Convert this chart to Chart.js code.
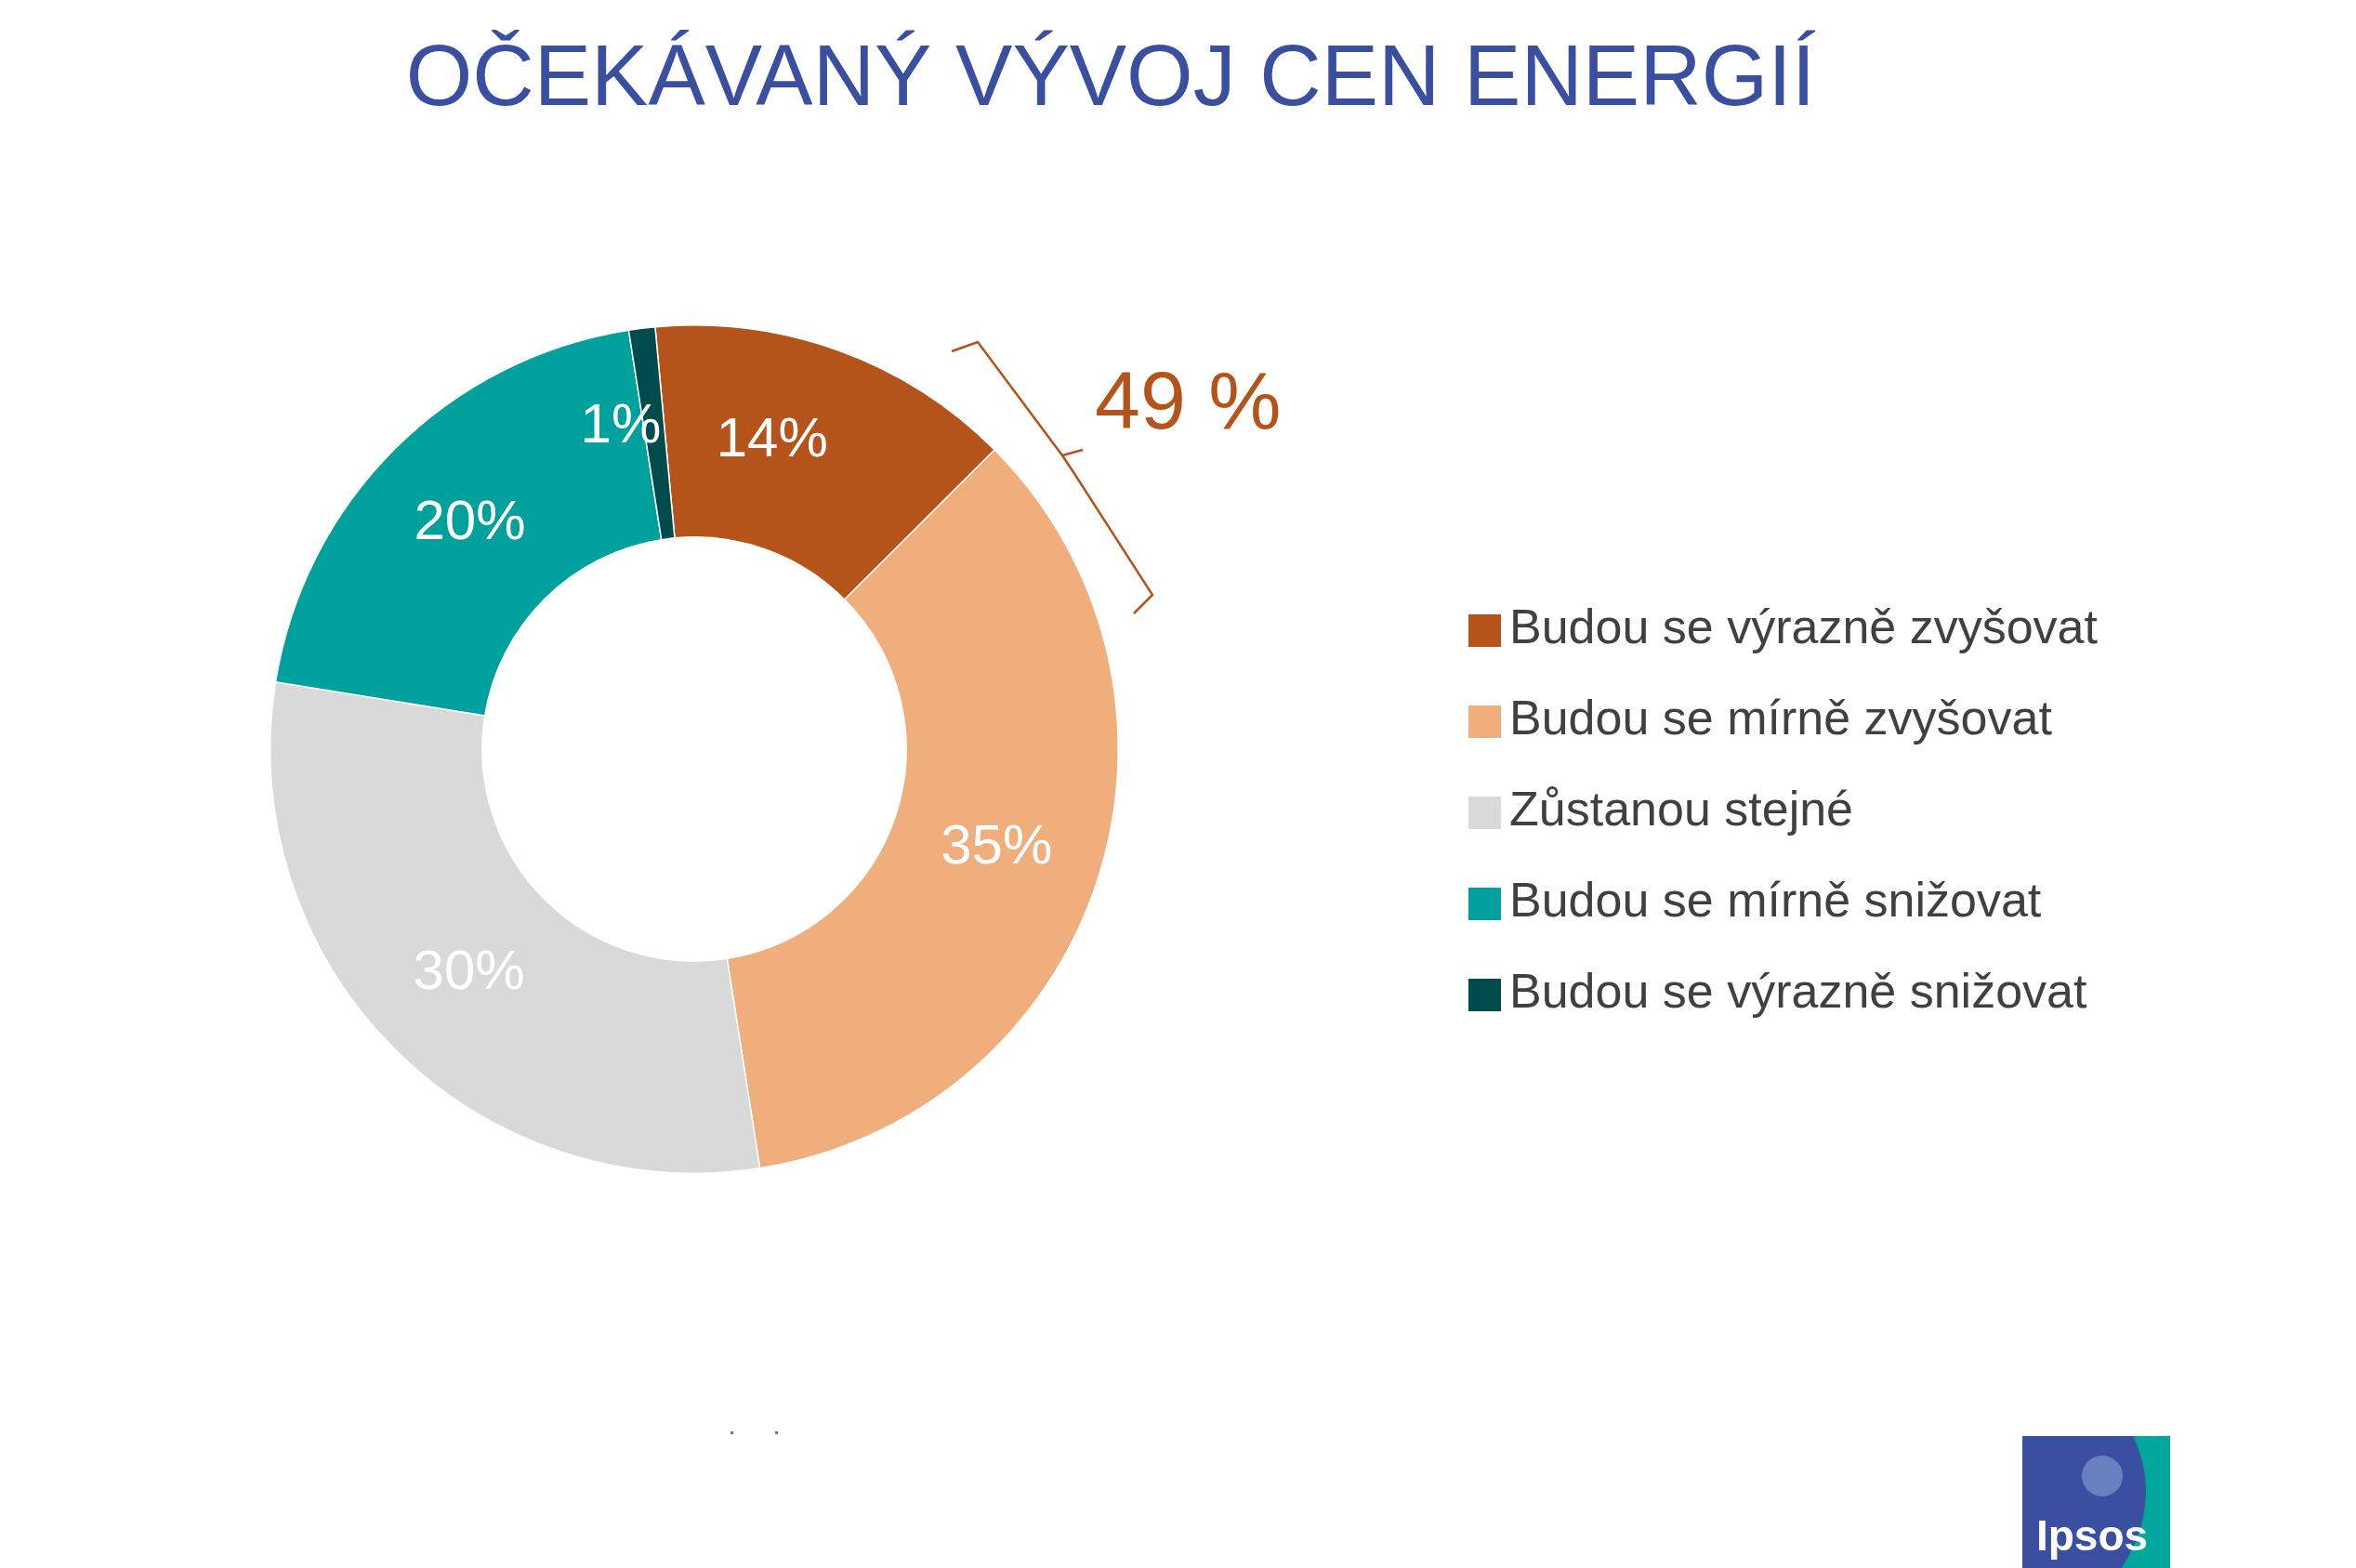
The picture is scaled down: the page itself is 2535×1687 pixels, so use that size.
<!DOCTYPE html>
<html><head><meta charset="utf-8">
<script src="https://cdn.jsdelivr.net/npm/chart.js@4/dist/chart.umd.min.js"></script>
<style>html,body{margin:0;padding:0;background:#fff;}#wrap{width:2535px;height:1687px;position:relative;}</style>
</head><body><div id="wrap"><canvas id="c"></canvas></div>
<script>
const title = "OČEKÁVANÝ VÝVOJ CEN ENERGIÍ";
const categories = ["Budou se výrazně zvyšovat","Budou se mírně zvyšovat","Zůstanou stejné","Budou se mírně snižovat","Budou se výrazně snižovat"];
const values = [14, 35, 30, 20, 1];
const valueLabels = ["14%","35%","30%","20%","1%"];
const colors = ["#b5541a","#f0ae7c","#d9d9d9","#00a09d","#004c4c"];
const bracketLabel = "49 %";
const FONT = "Arial, 'Liberation Sans', sans-serif";

const overlay = {
  id:'overlay',
  afterDatasetsDraw(chart){
    const ctx = chart.ctx;
    const meta = chart.getDatasetMeta(0);
    ctx.save();
    ctx.fillStyle = '#fff';
    ctx.font = '60px ' + FONT;
    ctx.textAlign='center'; ctx.textBaseline='middle';
    meta.data.forEach((arc,i)=>{
      const p = arc.getProps(['x','y','startAngle','endAngle','innerRadius','outerRadius'],true);
      let mid=(p.startAngle+p.endAngle)/2, r=(p.innerRadius+p.outerRadius)/2;
      if(i===0){ mid -= 0.1; }
      if(i===4){ r = p.outerRadius*0.78; mid -= 0.1; }
      ctx.fillText(valueLabels[i], p.x+Math.cos(mid)*r, p.y+Math.sin(mid)*r);
    });
    ctx.restore();
  },
  afterDraw(chart){
    const ctx = chart.ctx;
    ctx.save();
    ctx.fillStyle='#3a4fa0'; ctx.font='92px ' + FONT; ctx.textAlign='center'; ctx.textBaseline='middle';
    ctx.fillText(title, 1195, 88);
    ctx.strokeStyle='#b5541a'; ctx.lineWidth=2.5;
    ctx.beginPath();
    ctx.moveTo(1024,378); ctx.lineTo(1052,368); ctx.lineTo(1143,490);
    ctx.lineTo(1165,484); ctx.moveTo(1143,490); ctx.lineTo(1155,508);
    ctx.lineTo(1240,640); ctx.lineTo(1220,660);
    ctx.stroke();
    ctx.fillStyle='#b5541a'; ctx.font='88px ' + FONT; ctx.textAlign='left';
    ctx.fillText(bracketLabel, 1178, 437);
    ctx.font='52px ' + FONT; ctx.textBaseline='middle';
    categories.forEach((c,i)=>{
      const y=678+i*98;
      ctx.fillStyle=colors[i]; ctx.fillRect(1580,y-17,35,35);
      ctx.fillStyle='#404040'; ctx.fillText(c,1624,y);
    });
    ctx.fillStyle='#777'; ctx.fillRect(786,1540,3,3); ctx.fillRect(834,1540,3,3);
    ctx.fillStyle='#00a79d'; ctx.fillRect(2176,1545,159,142);
    ctx.fillStyle='#3a4fa0';
    ctx.beginPath(); ctx.moveTo(2176,1545); ctx.lineTo(2295,1545);
    ctx.quadraticCurveTo(2328,1615,2283,1687); ctx.lineTo(2176,1687); ctx.closePath(); ctx.fill();
    ctx.fillStyle='#fff'; ctx.font='bold 46px ' + FONT; ctx.textAlign='center';
    ctx.fillText('Ipsos',2251,1655);
    ctx.beginPath(); ctx.arc(2262,1588,22,0,Math.PI*2); ctx.fillStyle='#6a7fc0'; ctx.fill();
    ctx.restore();
  }
};

new Chart(document.getElementById('c'),{
  type:'doughnut',
  data:{labels:categories,datasets:[{data:values,backgroundColor:colors,borderColor:'#fff',borderWidth:1.5}]},
  options:{
    responsive:true, maintainAspectRatio:false, animation:false,
    cutout:'50%', rotation:-5.3,
    layout:{padding:{left:290,top:349,right:1331,bottom:424}},
    plugins:{legend:{display:false},tooltip:{enabled:false}}
  },
  plugins:[overlay]
});
</script></body></html>
